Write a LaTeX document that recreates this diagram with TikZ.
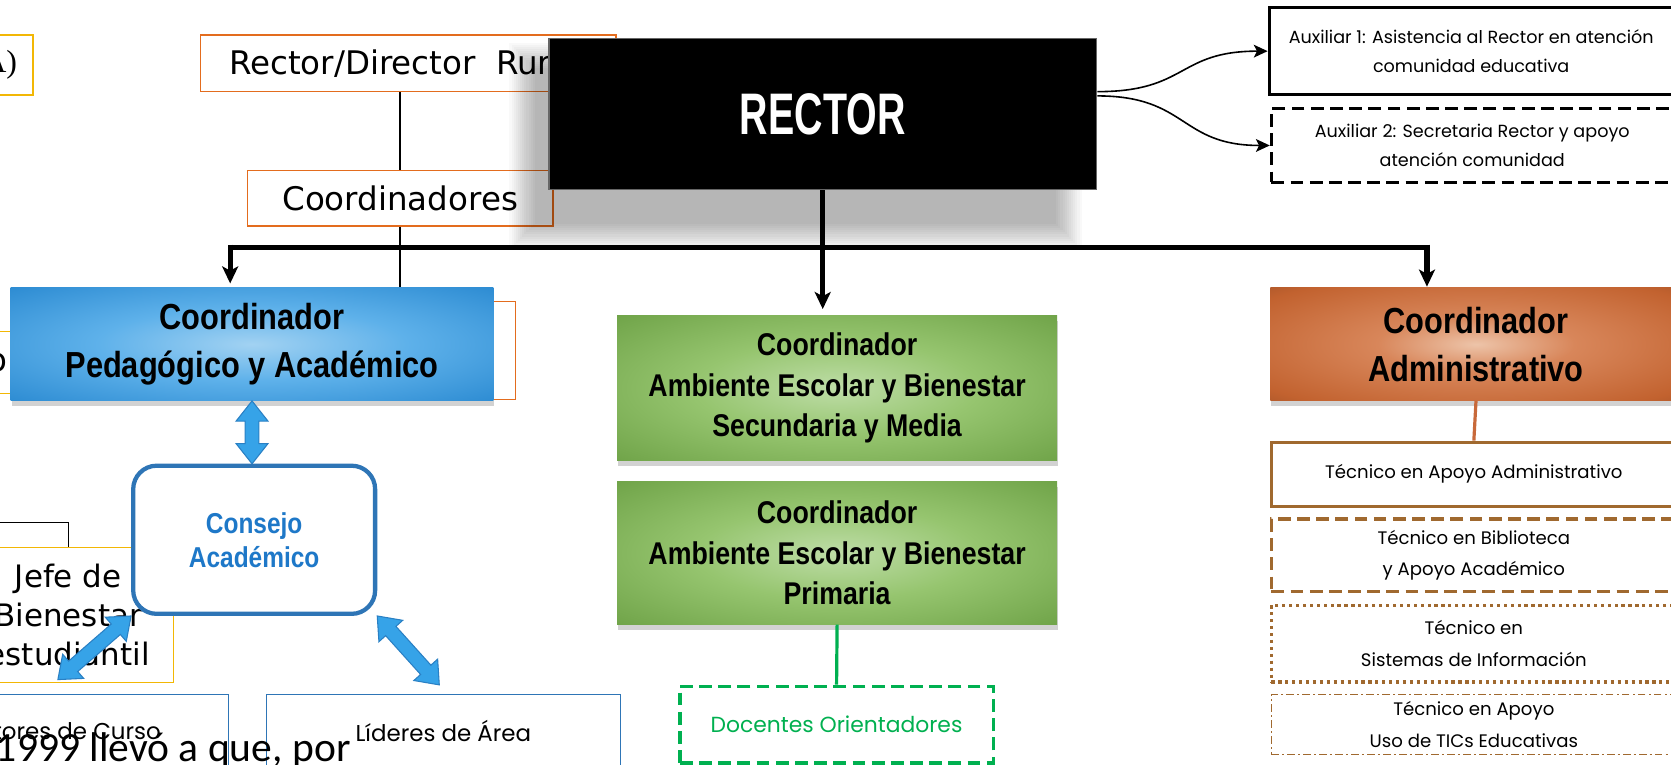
\documentclass[tikz,border=0pt]{standalone}
\usepackage{fontspec}
\usepackage{graphicx}
\usetikzlibrary{arrows.meta,shadows}

\newfontfamily\verdfont{DejaVu Sans}
\newfontfamily\narrowfont[FakeStretch=0.85]{Liberation Sans}
\newfontfamily\gothfont{Poppins}
\newfontfamily\calibfont{Carlito}
\newfontfamily\timesfont{Liberation Serif}

\definecolor{oldorange}{HTML}{E36C1E}
\definecolor{oldyellow}{HTML}{F2B705}
\definecolor{oldblue}{HTML}{2E75B6}
\definecolor{consejoblue}{HTML}{2E75B6}
\definecolor{consejotext}{HTML}{1E78C8}
\definecolor{arrowfill}{HTML}{36A3E8}
\definecolor{arrowedge}{HTML}{2A80C4}
\definecolor{docgreen}{HTML}{00B050}
\definecolor{tecbrown}{HTML}{A0692F}
\definecolor{admline}{HTML}{C8693A}
\definecolor{pedA}{HTML}{A2D2F2}
\definecolor{pedB}{HTML}{5EB1EA}
\definecolor{pedC}{HTML}{2C8BD2}
\definecolor{pedD}{HTML}{1A63A4}
\definecolor{ambA}{HTML}{BEDDA7}
\definecolor{ambB}{HTML}{96C56F}
\definecolor{ambC}{HTML}{6FA348}
\definecolor{ambD}{HTML}{4D7E2D}
\definecolor{admA}{HTML}{EDC4A9}
\definecolor{admB}{HTML}{D8865A}
\definecolor{admC}{HTML}{C2622F}
\definecolor{admD}{HTML}{7C3F1E}

\pgfdeclareradialshading{pedshade}{\pgfpoint{0bp}{0bp}}{color(0bp)=(pedA); color(16bp)=(pedB); color(36bp)=(pedC); color(50bp)=(pedD)}
\pgfdeclareradialshading{ambshade}{\pgfpoint{0bp}{0bp}}{color(0bp)=(ambA); color(16bp)=(ambB); color(36bp)=(ambC); color(50bp)=(ambD)}
\pgfdeclareradialshading{admshade}{\pgfpoint{0bp}{0bp}}{color(0bp)=(admA); color(12bp)=(admB); color(32bp)=(admC); color(50bp)=(admD)}

\tikzset{
  oldbox/.style={draw=#1, line width=1.3pt, fill=white, inner sep=0pt},
  coordbox/.style={shading=#1, inner sep=0pt, align=center,
    drop shadow={shadow xshift=1pt, shadow yshift=-5pt, opacity=0.35}},
  auxbox/.style={draw=black, line width=3pt, fill=white, inner sep=0pt, align=center,
    font=\gothfont\fontsize{16.5}{28}\selectfont},
  tecbox/.style={draw=tecbrown, line width=3pt, fill=white, inner sep=0pt, align=center,
    minimum width=380pt, font=\gothfont\fontsize{17}{29.5}\selectfont},
  trunk/.style={line width=5pt},
  trunkarrow/.style={line width=5pt, -{Stealth[length=16pt,width=15pt,inset=4pt]}},
  link/.style={line width=1.5pt, -{Stealth[length=13pt,width=12pt,inset=3pt]}},
  blockarrow/.style={fill=arrowfill, draw=arrowedge, line width=1pt, line join=miter}
}

\newcommand{\twohead}[3]{%
  \filldraw[blockarrow, shift={(#1)}, rotate=#2]
    (0pt,0pt) -- (19pt,15pt) -- (19pt,6.5pt) -- ({#3pt-19pt},6.5pt) -- ({#3pt-19pt},15pt)
    -- (#3pt,0pt) -- ({#3pt-19pt},-15pt) -- ({#3pt-19pt},-6.5pt) -- (19pt,-6.5pt) -- (19pt,-15pt) -- cycle;
}

\begin{document}
\begin{tikzpicture}[x=1pt, y=-1pt]
  \useasboundingbox (0,0) rectangle (1568,717);
  \clip (0,0) rectangle (1568,717);
  \fill[white] (0,0) rectangle (1568,717);

  % old chart underneath
  \node[oldbox=oldyellow, minimum width=91pt, minimum height=56pt, text width=61pt, align=right,
    font=\timesfont\fontsize{30}{36}\selectfont] (prevA) at (-14.5,61) {A)};
  \node[oldbox=oldorange, minimum width=390pt, minimum height=53pt, text width=336pt, align=left,
    font=\verdfont\fontsize{30.5}{36}\selectfont] (rectorRural) at (383,59.5) {Rector/Director\hspace{9pt} Rural};
  \node[oldbox=oldorange, minimum width=287pt, minimum height=52pt,
    font=\verdfont\fontsize{30.5}{36}\selectfont] (coordinadores) at (375.5,186) {Coordinadores};
  \node[oldbox=oldorange, minimum width=454pt, minimum height=92pt] (prevCoord) at (257,329) {};
  \node[oldbox=oldyellow, minimum width=130pt, minimum height=58pt, text width=114pt, align=right,
    font=\verdfont\fontsize{30.5}{36}\selectfont] (prevO) at (-50,340) {o};
  \draw[line width=1.3pt] (coordinadores.north) -- (coordinadores.north |- rectorRural.south);
  \draw[line width=1.3pt] (coordinadores.south) -- (coordinadores.south |- prevCoord.north);

  \coordinate (jefeIn) at (-5,490);
  \node[oldbox=oldyellow, minimum width=198pt, minimum height=127pt, align=center,
    font=\verdfont\fontsize{29}{36.5}\selectfont] (jefe) at (64,577) {Jefe de\\Bienestar\\estudiantil};
  \draw[line width=1.3pt] (jefeIn) -| (jefe.north);
  \node[oldbox=oldblue, line width=1pt, minimum width=338pt, minimum height=68pt,
    font=\gothfont\fontsize{21.5}{24}\selectfont] (directores) at (45,686) {Directores de Curso};
  \node[oldbox=oldblue, line width=1pt, minimum width=332pt, minimum height=68pt,
    font=\gothfont\fontsize{21.5}{24}\selectfont] (lideres) at (416,686) {Líderes de Área};

  % shadow of the rector box
  \foreach \d in {0,2,...,24}
    \fill[black, opacity=0.024] ({478+\d},{40+\d}) rectangle ({1015-\d},{234-\d});

  \node[draw=black!60, line width=1.5pt, fill=black, minimum width=514pt, minimum height=142pt,
    inner sep=0pt, text=white, font=\narrowfont\bfseries\fontsize{55}{60}\selectfont]
    (rector) at (772,107) {\scalebox{0.79}[1]{RECTOR}};

  \node[auxbox, minimum width=379pt, minimum height=82pt] (auxA) at (1380.5,48)
    {Auxiliar 1: Asistencia al Rector en atención\\comunidad educativa};
  \node[auxbox, dash pattern=on 12pt off 6pt, minimum width=377pt, minimum height=69pt] (auxB) at (1381.5,136.5)
    {Auxiliar 2: Secretaria Rector y apoyo\\atención comunidad};
  \draw[link] ([yshift=21pt]rector.east) .. controls +(85,0) and +(-85,0) .. (auxA.west);
  \draw[link] ([yshift=17pt]rector.east) .. controls +(85,0) and +(-85,0) .. (auxB.west);

  % trunk
  \coordinate (busL) at (216,232);
  \coordinate (busR) at (1339,232);
  \draw[trunk] (busL) -- (busR);
  \draw[trunkarrow, shorten >=6pt] (rector.south) -- (rector.south |- 0,296);
  \draw[trunkarrow, shorten >=4pt] ([yshift=2.5pt]busL) -- (busL |- 0,270);
  \draw[trunkarrow, shorten >=1pt] ([yshift=2.5pt]busR) -- (busR |- 0,270);

  \node[coordbox=pedshade, minimum width=453pt, minimum height=106pt,
    font=\narrowfont\bfseries\fontsize{34}{45}\selectfont] (coordPed) at (236.5,323)
    {Coordinador\\Pedagógico y Académico};
  \node[coordbox=ambshade, minimum width=413pt, minimum height=136pt,
    font=\narrowfont\bfseries\fontsize{29.5}{38}\selectfont] (coordAmbSec) at (785.5,364)
    {Coordinador\\Ambiente Escolar y Bienestar\\Secundaria y Media};
  \node[coordbox=ambshade, minimum width=413pt, minimum height=134pt,
    font=\narrowfont\bfseries\fontsize{29.5}{38}\selectfont] (coordAmbPri) at (785.5,519)
    {Coordinador\\Ambiente Escolar y Bienestar\\Primaria};
  \node[coordbox=admshade, minimum width=386pt, minimum height=106pt,
    font=\narrowfont\bfseries\fontsize{34}{45}\selectfont] (coordAdm) at (1385,323)
    {Coordinador\\Administrativo};

  % consejo
  \node[draw=consejoblue, line width=4pt, rounded corners=22pt, fill=white, minimum width=227pt,
    minimum height=139pt, inner sep=0pt, text=consejotext, align=center,
    font=\narrowfont\bfseries\fontsize{27}{32}\selectfont] (consejo) at (238.5,506.5) {Consejo\\Académico};
  \twohead{coordPed.south}{-90}{59}
  \twohead{consejo.south west}{-139}{91}
  \twohead{consejo.south east}{-48}{87}

  % primaria
  \node[draw=docgreen, line width=3pt, dash pattern=on 12pt off 6pt, fill=white, minimum width=294pt,
    minimum height=72pt, inner sep=0pt, text=docgreen, font=\gothfont\fontsize{20.5}{24}\selectfont]
    (docentes) at (785,680) {Docentes Orientadores};
  \draw[docgreen, line width=3pt] (coordAmbPri.south) -- (docentes.north);

  % administrativo
  \node[tecbox, minimum height=60pt] (tecAdm) at (1383,445) {Técnico en Apoyo Administrativo};
  \node[tecbox, dash pattern=on 12pt off 6pt, minimum height=68pt] (tecBib) at (1383,521)
    {Técnico en Biblioteca\\y Apoyo Académico};
  \node[tecbox, dash pattern=on 3pt off 3.5pt, minimum height=72pt] (tecSis) at (1383,604)
    {Técnico en\\Sistemas de Información};
  \node[tecbox, line width=1.2pt, dash pattern=on 7pt off 3pt on 2pt off 3pt, minimum height=56pt]
    (tecTic) at (1383,680) {Técnico en Apoyo\\Uso de TICs Educativas};
  \draw[admline, line width=3pt] (coordAdm.south) -- (tecAdm.north);

  \node[anchor=base west, inner sep=0pt, font=\calibfont\fontsize{39}{44}\selectfont]
    (textoFondo) at (-4,715) {1999 llevó a que, por};
\end{tikzpicture}
\end{document}
